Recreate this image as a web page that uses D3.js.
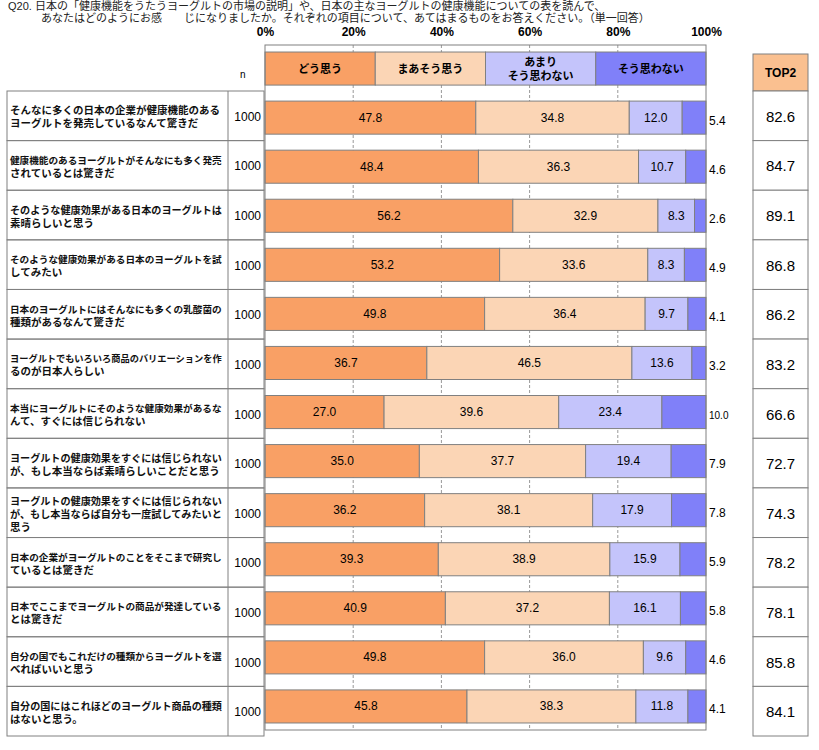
<!DOCTYPE html>
<html>
<head>
<meta charset="utf-8">
<script src="https://cdn.jsdelivr.net/npm/d3@7"></script>
<style>
  body { margin: 0; background: #fff; }
  svg { display: block; font-family: "Liberation Sans", "Noto Sans CJK JP", sans-serif; }
</style>
</head>
<body>
<svg class="chart" width="819" height="750"></svg>
<script>
// question items (line breaks as in the source table)
const items = [
  'そんなに多くの日本の企業が健康機能のある\nヨーグルトを発売しているなんて驚きだ',
  '健康機能のあるヨーグルトがそんなにも多く発売\nされているとは驚きだ',
  'そのような健康効果がある日本のヨーグルトは\n素晴らしいと思う',
  'そのような健康効果がある日本のヨーグルトを試\nしてみたい',
  '日本のヨーグルトにはそんなにも多くの乳酸菌の\n種類があるなんて驚きだ',
  'ヨーグルトでもいろいろ商品のバリエーションを作\nるのが日本人らしい',
  '本当にヨーグルトにそのような健康効果があるな\nんて、すぐには信じられない',
  'ヨーグルトの健康効果をすぐには信じられない\nが、もし本当ならば素晴らしいことだと思う',
  'ヨーグルトの健康効果をすぐには信じられない\nが、もし本当ならば自分も一度試してみたいと\n思う',
  '日本の企業がヨーグルトのことをそこまで研究し\nているとは驚きだ',
  '日本でここまでヨーグルトの商品が発達している\nとは驚きだ',
  '自分の国でもこれだけの種類からヨーグルトを選\nべればいいと思う',
  '自分の国にはこれほどのヨーグルト商品の種類\nはないと思う。'
];
const sampleN = [1000, 1000, 1000, 1000, 1000, 1000, 1000, 1000, 1000, 1000, 1000, 1000, 1000];
const agree    = [47.8, 48.4, 56.2, 53.2, 49.8, 36.7, 27.0, 35.0, 36.2, 39.3, 40.9, 49.8, 45.8];
const somewhat = [34.8, 36.3, 32.9, 33.6, 36.4, 46.5, 39.6, 37.7, 38.1, 38.9, 37.2, 36.0, 38.3];
const notMuch  = [12.0, 10.7, 8.3, 8.3, 9.7, 13.6, 23.4, 19.4, 17.9, 15.9, 16.1, 9.6, 11.8];
const notAtAll = [5.4, 4.6, 2.6, 4.9, 4.1, 3.2, 10.0, 7.9, 7.8, 5.9, 5.8, 4.6, 4.1];
const top2     = [82.6, 84.7, 89.1, 86.8, 86.2, 83.2, 66.6, 72.7, 74.3, 78.2, 78.1, 85.8, 84.1];
const categories = ['どう思う', 'まあそう思う', 'あまり\nそう思わない', 'そう思わない'];
const tickValues = [0, 20, 40, 60, 80, 100];

const colors = ['#F9A065', '#FBD5B5', '#C4C4FB', '#8080F9'];
const lineColor = '#808080';

const svg = d3.select('.chart');
const keys = ['c0', 'c1', 'c2', 'c3'];
const rows = items.map((item, i) => ({
  item, c0: agree[i], c1: somewhat[i], c2: notMuch[i], c3: notAtAll[i]
}));
const series = d3.stack().keys(keys)(rows);

const x = d3.scaleLinear().domain([0, 100]).range([265, 706]);
const yPlot = d3.scaleBand()
  .domain(['legend', ...items])
  .range([45, 730])
  .paddingInner(0.326)
  .paddingOuter(0.143);
const yTable = d3.scaleBand().domain(items).range([91, 736]);

// title
const title = svg.append('g').attr('font-size', 11).attr('fill', '#222');
title.append('text').attr('x', 8).attr('y', 10)
  .text('Q20. 日本の「健康機能をうたうヨーグルトの市場の説明」や、日本の主なヨーグルトの健康機能についての表を読んで、');
title.append('text').attr('x', 41).attr('y', 22)
  .text('あなたはどのようにお感　　じになりましたか。それぞれの項目について、あてはまるものをお答えください。（単一回答）');

// gridlines
svg.selectAll('.grid')
  .data([20, 40, 60, 80])
  .enter()
  .append('line')
  .attr('class', 'grid')
  .attr('x1', d => x(d)).attr('x2', d => x(d))
  .attr('y1', 45).attr('y2', 730)
  .attr('stroke', '#999')
  .attr('stroke-dasharray', '3,2');

// axis on top
const axis = svg.append('g')
  .attr('transform', 'translate(0,45)')
  .call(d3.axisTop(x).tickValues(tickValues).tickFormat(d => d + '%').tickSize(0).tickPadding(9));
axis.select('.domain').remove();
axis.selectAll('text')
  .attr('font-family', '"Liberation Sans", sans-serif')
  .attr('font-size', 12)
  .attr('font-weight', 'bold')
  .attr('fill', '#000');

// legend row inside the plot
const legend = svg.selectAll('.legendCell')
  .data(categories)
  .enter()
  .append('g')
  .attr('class', 'legendCell');
legend.append('rect')
  .attr('x', (d, i) => x(i * 25))
  .attr('y', yPlot('legend'))
  .attr('width', x(25) - x(0))
  .attr('height', yPlot.bandwidth())
  .attr('fill', (d, i) => colors[i])
  .attr('stroke', lineColor);
legend.append('text')
  .attr('text-anchor', 'middle')
  .attr('font-size', 11)
  .attr('font-weight', 'bold')
  .each(function(d, i) {
    const lines = d.split('\n');
    const cy = yPlot('legend') + yPlot.bandwidth() / 2;
    lines.forEach((t, j) => {
      d3.select(this).append('tspan')
        .attr('x', x(i * 25 + 12.5))
        .attr('y', cy + 4 + (j - (lines.length - 1) / 2) * 14)
        .text(t);
    });
  });

// stacked bars
const layer = svg.selectAll('.layer')
  .data(series)
  .enter()
  .append('g')
  .attr('class', 'layer')
  .attr('fill', (d, i) => colors[i]);
layer.selectAll('rect')
  .data(d => d)
  .enter()
  .append('rect')
  .attr('x', d => x(d[0]))
  .attr('y', d => yPlot(d.data.item))
  .attr('width', d => x(d[1]) - x(d[0]))
  .attr('height', yPlot.bandwidth())
  .attr('stroke', lineColor);

// value labels: inside for first three, outside for the last
layer.each(function(s, k) {
  d3.select(this).selectAll('.val')
    .data(s)
    .enter()
    .append('text')
    .attr('class', 'val')
    .attr('fill', '#000')
    .attr('font-size', d => (k === 3 && d.data[s.key] >= 10) ? 10 : 12)
    .attr('text-anchor', k === 3 ? 'start' : 'middle')
    .attr('x', d => k === 3 ? x(100) + 3 : x((d[0] + d[1]) / 2))
    .attr('y', d => yPlot(d.data.item) + yPlot.bandwidth() / 2 + (k === 3 ? 7 : 4))
    .text(d => d.data[s.key].toFixed(1));
});

// plot frame
svg.append('rect')
  .attr('x', x(0)).attr('y', 45)
  .attr('width', x(100) - x(0)).attr('height', 685)
  .attr('fill', 'none')
  .attr('stroke', lineColor);

// left table: item text + n
svg.append('text')
  .attr('x', 240).attr('y', 78)
  .attr('font-size', 10)
  .text('n');

const cell = svg.selectAll('.rowCell')
  .data(items)
  .enter()
  .append('g')
  .attr('class', 'rowCell');
cell.append('rect')
  .attr('x', 7).attr('y', d => yTable(d))
  .attr('width', 257).attr('height', yTable.bandwidth())
  .attr('fill', 'none')
  .attr('stroke', lineColor);
cell.append('line')
  .attr('x1', 228).attr('x2', 228)
  .attr('y1', d => yTable(d)).attr('y2', d => yTable(d) + yTable.bandwidth())
  .attr('stroke', lineColor);
const maxLabelW = 212;
const labelSize = 10.5;
cell.append('text')
  .attr('font-weight', 'bold')
  .attr('fill', '#111')
  .each(function(d) {
    const lines = d.split('\n');
    const cy = yTable(d) + yTable.bandwidth() / 2;
    lines.forEach((t, j) => {
      const ts = d3.select(this).append('tspan')
        .attr('x', 10)
        .attr('y', cy + 5 + (j - (lines.length - 1) / 2) * 13)
        .attr('font-size', labelSize)
        .text(t);
      // shrink lines that would run into the n column
      const w = ts.node().getComputedTextLength();
      if (w > maxLabelW) ts.attr('font-size', (labelSize * maxLabelW / w).toFixed(2));
    });
  });
cell.append('text')
  .attr('x', 261)
  .attr('y', d => yTable(d) + yTable.bandwidth() / 2 + 5)
  .attr('text-anchor', 'end')
  .attr('font-size', 12)
  .text((d, i) => sampleN[i]);

// TOP2 column
svg.append('rect')
  .attr('x', 753).attr('y', 54)
  .attr('width', 55).attr('height', 37)
  .attr('fill', '#FAC090')
  .attr('stroke', lineColor);
svg.append('text')
  .attr('x', 780.5).attr('y', 77)
  .attr('text-anchor', 'middle')
  .attr('font-size', 12)
  .attr('font-weight', 'bold')
  .text('TOP2');

const topCell = svg.selectAll('.topCell')
  .data(items)
  .enter()
  .append('g')
  .attr('class', 'topCell');
topCell.append('rect')
  .attr('x', 753).attr('y', d => yTable(d))
  .attr('width', 55).attr('height', yTable.bandwidth())
  .attr('fill', '#fff')
  .attr('stroke', lineColor);
topCell.append('text')
  .attr('x', 780.5)
  .attr('y', d => yTable(d) + yTable.bandwidth() / 2 + 6)
  .attr('text-anchor', 'middle')
  .attr('font-size', 15)
  .text((d, i) => top2[i].toFixed(1));
</script>
</body>
</html>
